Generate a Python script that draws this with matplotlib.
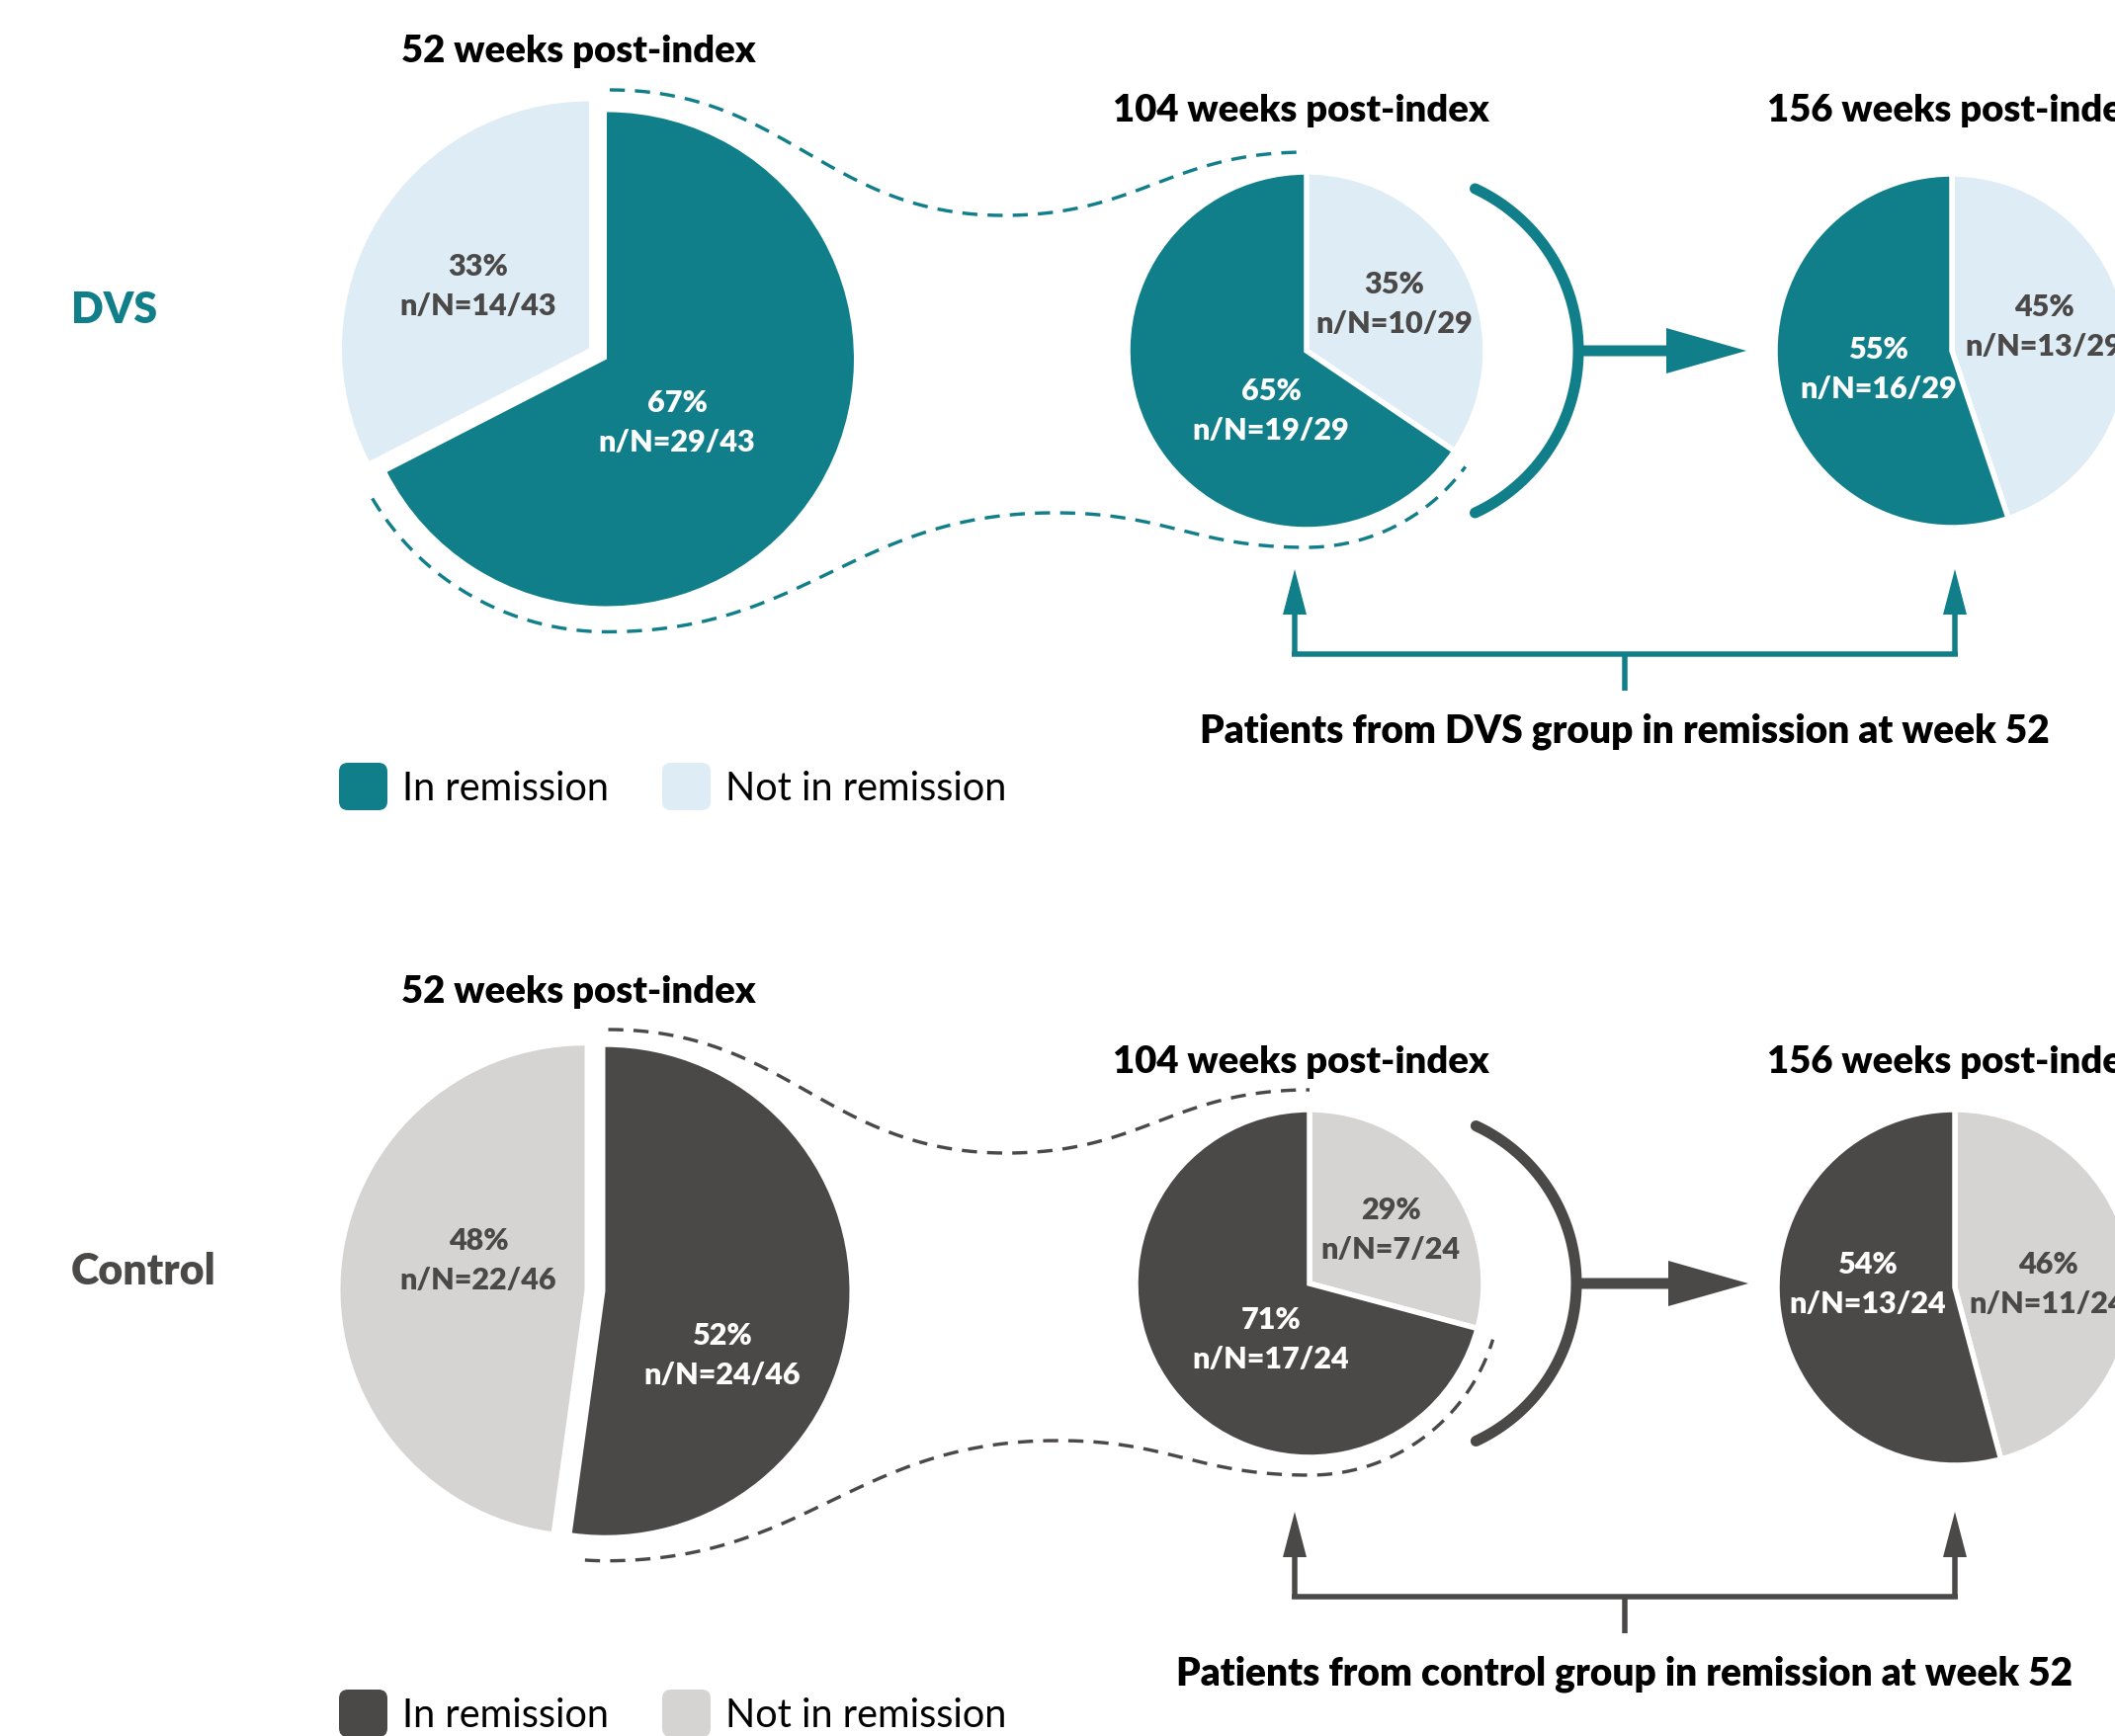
import numpy as np
import matplotlib.pyplot as plt
from matplotlib.patches import FancyArrow, FancyBboxPatch

# values (52, 104, 156 weeks post-index)
weeks = [52, 104, 156]
dvs_n = [29, 19, 16]
dvs_N = [43, 29, 29]
dvs_pct = [67, 65, 55]
ctrl_n = [24, 17, 13]
ctrl_N = [46, 24, 24]
ctrl_pct = [52, 71, 54]
legend_labels = ["In remission", "Not in remission"]

TEAL = "#117f8a"
PALE_BLUE = "#deecf5"
DARK = "#4b4848"
PALE_GREY = "#d5d4d3"

W, H = 2140, 1757

plt.rcParams["font.family"] = ["Lato", "DejaVu Sans"]

fig = plt.figure(figsize=(W / 100, H / 100), dpi=100)
ax = fig.add_axes([0, 0, 1, 1])


def pt(px):
    # pixel widths -> points at dpi 100
    return px * 0.72


def xy_at(c, r, ang):
    # ang in degrees, counter-clockwise as seen on the page (y axis points down)
    a = np.radians(ang)
    return np.column_stack([c[0] + r * np.cos(a), c[1] - r * np.sin(a)])


def bez(p0, p1, p2, p3, num=60):
    t = np.linspace(0, 1, num)[:, None]
    p0, p1, p2, p3 = map(np.asarray, (p0, p1, p2, p3))
    return (1 - t) ** 3 * p0 + 3 * (1 - t) ** 2 * t * p1 + 3 * (1 - t) * t ** 2 * p2 + t ** 3 * p3


def s_curve(a, b, k=0.45):
    d = (b[0] - a[0]) * k
    return bez(a, (a[0] + d, a[1]), (b[0] - d, b[1]), b)


def draw_pie(c, r, sizes, colors, explode=None, edge=0):
    # y axis is inverted, so startangle=-90 + counterclock=True draws clockwise from 12 o'clock
    ax.pie(sizes, colors=colors, center=c, radius=r, startangle=-90, counterclock=True,
           explode=explode, frame=True,
           wedgeprops=dict(edgecolor="white", linewidth=pt(edge)))


def slice_text(xy, pct, n, N, color):
    ax.text(xy[0], xy[1], f"{pct}%\nn/N={n}/{N}", ha="center", va="center",
            fontsize=22, fontweight="heavy", color=color, linespacing=1.5)


def draw_row(n, N, pct, c_in, c_out, c_line, name, group, lay):
    big_c, big_r = lay["big"]
    mid_c, mid_r = lay["mid"]
    end_c, end_r = lay["end"]
    ty52, ty = lay["title_y"]

    # 52 weeks: exploded pie, in-remission slice first
    frac = n[0] / N[0]
    draw_pie(big_c, big_r, [n[0], N[0] - n[0]], [c_in, c_out], explode=[10.5, 10.5])
    teal_c = xy_at(big_c, 10.5, 90 - 180 * frac)[0]

    # dashed "zoom" outline from the big slice to the 104-week pie
    mid_frac_out = (N[1] - n[1]) / N[1]
    top_a = (teal_c[0] + 3, big_c[1] - big_r - 17)
    top_b = (mid_c[0], mid_c[1] - mid_r - 20)
    dip = (top_b[0] - 307, top_b[1] + 64)
    upper = np.vstack([s_curve(top_a, dip), s_curve(dip, top_b)])
    arc1 = xy_at(teal_c, big_r + 26, np.linspace(90 - 360 * frac + 360 + 3.5, 270, 50))
    bot_b = (mid_c[0], mid_c[1] + mid_r + 18)
    rise = (bot_b[0] - 255, bot_b[1] - 35)
    arc2 = xy_at(mid_c, mid_r + 18, np.linspace(270, 90 - 360 * mid_frac_out + 360 - 2, 50))
    lower = np.vstack([arc1, s_curve(arc1[-1], rise), s_curve(rise, bot_b), arc2])
    for seg in (upper, lower):
        ax.plot(seg[:, 0], seg[:, 1], color=c_line, lw=pt(3.4), ls=(0, (4.5, 3)))

    # 104 and 156 weeks: not-in-remission slice first (clockwise from top)
    draw_pie(mid_c, mid_r, [N[1] - n[1], n[1]], [c_out, c_in], edge=5.5)
    draw_pie(end_c, end_r, [N[2] - n[2], n[2]], [c_out, c_in], edge=5.5)

    # bow + arrow between 104 and 156
    bow_c = (mid_c[0] + 94, mid_c[1])
    bow = xy_at(bow_c, mid_r, np.linspace(-65, 65, 80))
    ax.plot(bow[:, 0], bow[:, 1], color=c_line, lw=pt(11), solid_capstyle="round")
    x0 = bow_c[0] + mid_r
    tip = end_c[0] - end_r - 29
    ax.add_patch(FancyArrow(x0, mid_c[1], tip - x0, 0, width=11, head_width=46, head_length=81,
                            length_includes_head=True, color=c_line, lw=0))

    # slice labels
    pos = lay["labels"]
    for i in range(3):
        slice_text(pos[i][0], pct[i], n[i], N[i], "white")
        slice_text(pos[i][1], 100 - pct[i], N[i] - n[i], N[i], DARK)

    # titles
    for x, y, w in zip([585, 1316, 1978], [ty52, ty, ty], weeks):
        ax.text(x, y, f"{w} weeks post-index", ha="center", va="center",
                fontsize=27.5, fontweight="heavy", color="black")

    ax.text(72, lay["name_y"], name, ha="left", va="center", fontsize=31,
            fontweight="heavy", color=c_line)

    # bracket with arrows up to 104 and 156 pies
    yb = lay["bracket_y"]
    xs = [1310, 1978]
    ax.plot([xs[0] - 2.75, xs[1] + 2.75], [yb, yb], color=c_line, lw=pt(5.5), solid_capstyle="butt")
    for x in xs:
        ax.add_patch(FancyArrow(x, yb, 0, -86, width=5.5, head_width=24, head_length=46,
                                length_includes_head=True, color=c_line, lw=0))
    xm = sum(xs) / 2
    ax.plot([xm, xm], [yb, yb + 37], color=c_line, lw=pt(5.5), solid_capstyle="butt")
    ax.text(xm, yb + 78, f"Patients from {group} group in remission at week 52", ha="center",
            va="center", fontsize=28, fontweight="heavy", color="black")

    # legend
    yl = lay["legend_y"]
    for xb, xt, col, lab in zip([343, 670], [407, 734], [c_in, c_out], legend_labels):
        ax.add_patch(FancyBboxPatch((xb + 9, yl - 24 + 9), 31, 30, boxstyle="round,pad=9",
                                    fc=col, ec="none"))
        ax.text(xt, yl + 2, lab, ha="left", va="center", fontsize=28.5, color="black")


draw_row(dvs_n, dvs_N, dvs_pct, TEAL, PALE_BLUE, TEAL, "DVS", "DVS", dict(
    big=((605, 358), 250), mid=((1322, 355), 181), end=((1975, 355), 179),
    title_y=(52, 112), name_y=314, bracket_y=662, legend_y=796,
    labels=[((685, 428), (484, 290)), ((1286, 416), (1411, 308)), ((1901, 374), (2068, 331))]))

draw_row(ctrl_n, ctrl_N, ctrl_pct, DARK, PALE_GREY, DARK, "Control", "control", dict(
    big=((602, 1306), 247), mid=((1325, 1299), 176), end=((1978, 1303), 180),
    title_y=(1004, 1075), name_y=1287, bracket_y=1616, legend_y=1734,
    labels=[((731, 1372), (484, 1276)), ((1286, 1356), (1407, 1245)), ((1890, 1300), (2072, 1300))]))

ax.set_xlim(0, W)
ax.set_ylim(H, 0)
ax.set_aspect("auto")
ax.axis("off")

fig.savefig("out.png", dpi=100)
